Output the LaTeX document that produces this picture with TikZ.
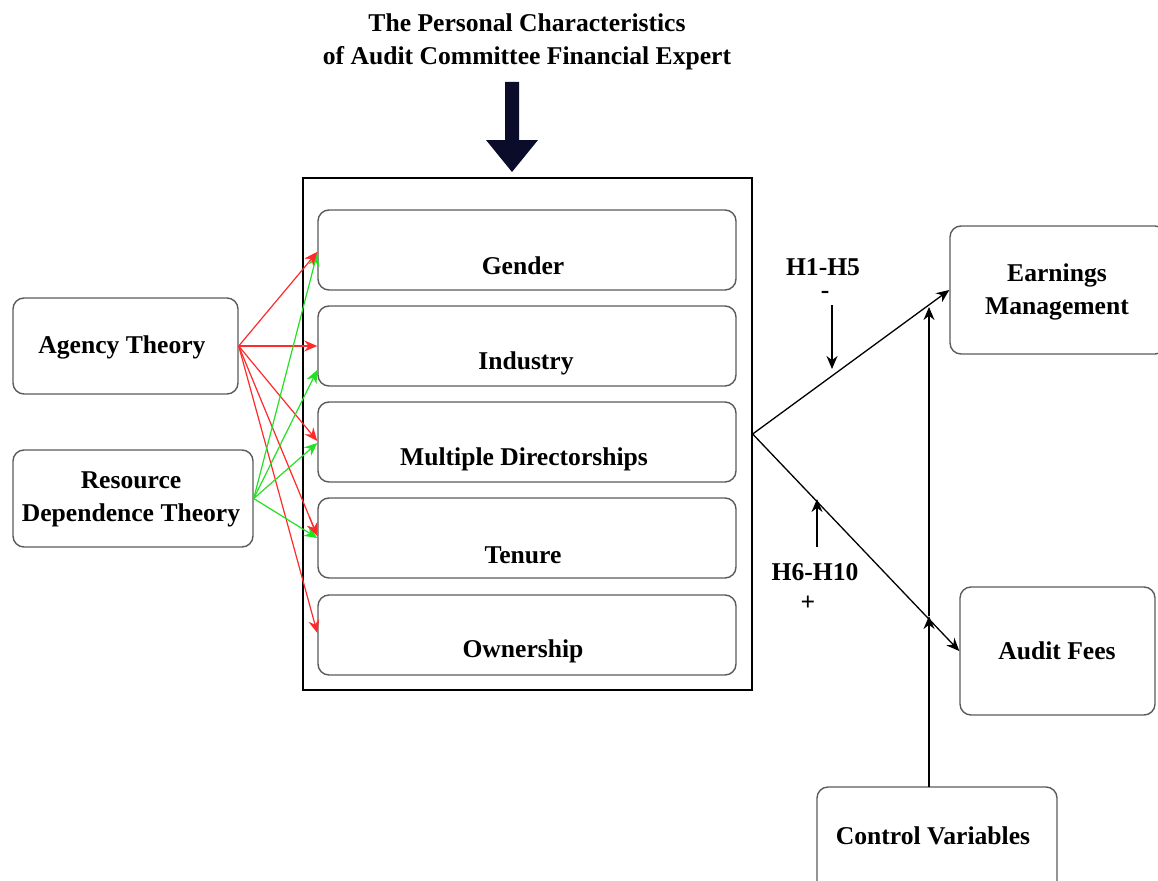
\documentclass[tikz,border=0pt]{standalone}
\usepackage{fontspec}
\setmainfont{Liberation Serif}
\usetikzlibrary{arrows.meta,calc}
\definecolor{boxgrey}{HTML}{5A5A5A}
\definecolor{navy}{HTML}{0B0B2A}
\definecolor{myred}{HTML}{FF2A2A}
\definecolor{mygreen}{HTML}{22E022}
\tikzset{
  txt/.style={font=\fontsize{25.6}{33}\selectfont\bfseries, align=center, inner sep=0pt},
  rbox/.style={draw=boxgrey, line width=1.4pt, rounded corners=11pt, inner sep=0pt},
  redarr/.style={draw=myred, line width=1.2pt, -{Stealth[length=13pt,width=11pt]}},
  greenarr/.style={draw=mygreen, line width=1.2pt, -{Stealth[length=13pt,width=11pt]}},
  blkarr/.style={draw=black, line width=1.3pt, -{Stealth[length=13pt,width=11pt]}},
}
\begin{document}
\begin{tikzpicture}[x=1pt,y=-1pt]
\useasboundingbox (0,0) rectangle (1158,880);
% title
\node[txt] (title) at (527,42) {The Personal Characteristics\\of Audit Committee Financial Expert};
% big arrow
\fill[navy] (505,82) -- (519,82) -- (519,140) -- (538,140) -- (512,172) -- (486,140) -- (505,140) -- cycle;
% outer box
\node[draw=black, line width=1.3pt, minimum width=449pt, minimum height=512pt, inner sep=0pt] (outer) at (527.5,434) {};
% inner boxes
\node[rbox, minimum width=418pt, minimum height=80pt] (gender) at (527,250) {};
\node[rbox, minimum width=418pt, minimum height=80pt] (industry) at (527,346) {};
\node[rbox, minimum width=418pt, minimum height=80pt] (multi) at (527,442) {};
\node[rbox, minimum width=418pt, minimum height=80pt] (tenure) at (527,538) {};
\node[rbox, minimum width=418pt, minimum height=80pt] (owner) at (527,635) {};
\node[txt] (tgender) at (523,266) {Gender};
\node[txt] (tindustry) at (526,363) {Industry};
\node[txt] (tmulti) at (524,459) {Multiple Directorships};
\node[txt] (ttenure) at (523,555) {Tenure};
\node[txt] (towner) at (523,651) {Ownership};
% left boxes
\node[rbox, minimum width=225pt, minimum height=96pt] (agency) at (125.5,346) {};
\node[txt] (tagency) at (122,347) {Agency Theory};
\node[rbox, minimum width=240pt, minimum height=97pt] (rdt) at (133,498.5) {};
\node[txt] (trdt) at (131,499) {Resource\\Dependence Theory};
% right boxes
\node[rbox, minimum width=216pt, minimum height=128pt] (earn) at (1058,290) {};
\node[txt] (tearn) at (1057,292) {Earnings\\Management};
\node[rbox, minimum width=195pt, minimum height=128pt] (audit) at (1057.5,651) {};
\node[txt] (taudit) at (1057,651) {Audit Fees};
\node[rbox, minimum width=240pt, minimum height=120pt] (ctrl) at (937,847) {};
\node[txt] (tctrl) at (933,836) {Control Variables};
% red arrows
\draw[redarr] (agency.east) -- ($(gender.west)+(0,2)$);
\draw[redarr] (agency.east) -- (industry.west);
\draw[redarr] (agency.east) -- ($(multi.west)+(0,-1)$);
\draw[redarr] (agency.east) -- ($(tenure.west)+(0,-2)$);
\draw[redarr] (agency.east) -- ($(owner.west)+(0,-2)$);
% green arrows
\draw[greenarr] (rdt.east) -- ($(gender.west)+(0,3)$);
\draw[greenarr] (rdt.east) -- ($(industry.west)+(0,24)$);
\draw[greenarr] (rdt.east) -- ($(multi.west)+(0,1)$);
\draw[greenarr] (rdt.east) -- ($(tenure.west)+(0,0)$);
% redraw red tips on top
\draw[redarr] ($(agency.east)!0.9!($(gender.west)+(0,2)$)$) -- ($(gender.west)+(0,2)$);
\draw[redarr] ($(agency.east)!0.9!($(tenure.west)+(0,-2)$)$) -- ($(tenure.west)+(0,-2)$);
% outcome arrows
\draw[blkarr] (outer.east) -- (earn.west);
\draw[blkarr] (outer.east) -- (audit.west);
% control variables
\coordinate (cv) at (929,787);
\coordinate (cl) at (929,616);
\coordinate (cu) at (929,307);
\draw[blkarr] (cv) -- (cl);
\draw[blkarr] (cl) -- (cu);
% hypotheses
\node[txt] (h1) at (823,267) {H1-H5};
\node[txt] (hminus) at (825,295) {-};
\coordinate (h1a) at (832,305);
\coordinate (h1b) at (832,369);
\draw[blkarr] (h1a) -- (h1b);
\node[txt] (h6) at (815,572) {H6-H10};
\node[txt] (hplus) at (808,603) {+};
\coordinate (h6a) at (817,547);
\coordinate (h6b) at (817,499);
\draw[blkarr] (h6a) -- (h6b);
\end{tikzpicture}
\end{document}
